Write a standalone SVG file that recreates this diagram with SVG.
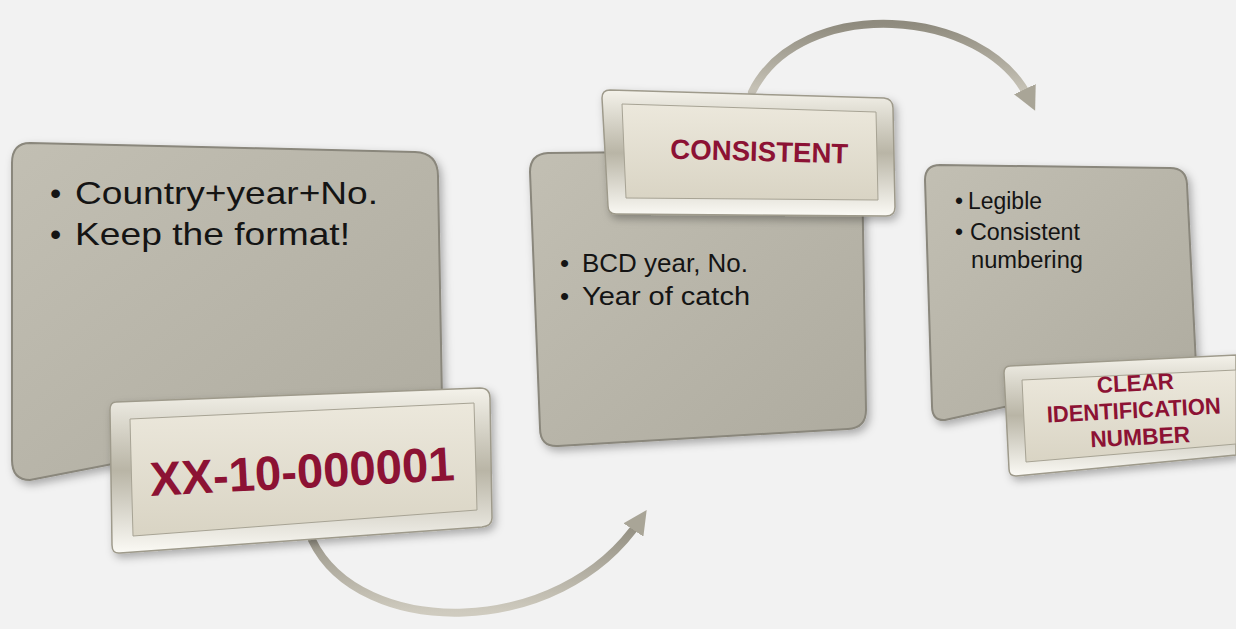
<svg xmlns="http://www.w3.org/2000/svg" width="1236" height="629" viewBox="0 0 1236 629">
<defs>
<linearGradient id="boxG" x1="0" y1="0" x2="1" y2="1">
<stop offset="0" stop-color="#c2bfb3"/><stop offset="1" stop-color="#aeab9f"/>
</linearGradient>
<linearGradient id="plateG" x1="0" y1="0" x2="0" y2="1">
<stop offset="0" stop-color="#ece8dc"/><stop offset="1" stop-color="#d9d4c4"/>
</linearGradient>
<linearGradient id="rimG" x1="0" y1="0" x2="0" y2="1">
<stop offset="0" stop-color="#f4f2ea"/><stop offset="0.5" stop-color="#b9b5a6"/><stop offset="1" stop-color="#fbfaf5"/>
</linearGradient>
<linearGradient id="arrG" x1="0" y1="0" x2="0" y2="1">
<stop offset="0" stop-color="#8f8b7e"/><stop offset="1" stop-color="#cfcbbf"/>
</linearGradient>
<filter id="sh" x="-10%" y="-10%" width="130%" height="130%">
<feDropShadow dx="3" dy="4" stdDeviation="4" flood-color="#000" flood-opacity="0.3"/>
</filter>
<marker id="ah" viewBox="0 0 10 10" refX="5" refY="5" markerWidth="3" markerHeight="3" orient="auto">
<path d="M0,0 L10,5 L0,10 z" fill="#a9a597"/>
</marker>
</defs>
<style>
.box{fill:url(#boxG);stroke:#8a877c;stroke-width:2;filter:url(#sh)}
.rim{fill:url(#rimG);stroke:#9e9a8b;stroke-width:1.5;filter:url(#sh)}
.face{fill:url(#plateG);stroke:#a7a394;stroke-width:1}
.body{font-family:"Liberation Sans",Arial,sans-serif;fill:#141414}
.lab{font-family:"Liberation Sans",Arial,sans-serif;font-weight:bold;fill:#8c1234;text-anchor:middle}
.arr{fill:none;stroke:url(#arrG);stroke-width:8;stroke-linecap:round}
</style>
<rect width="1236" height="629" fill="#f2f2f2"/>

<g id="connectors">
<path class="arr" d="M312,540 C360,640 560,640 640,520" marker-end="url(#ah)"/>
<path class="arr" d="M752,92 C800,-5 985,5 1030,100" marker-end="url(#ah)"/>
</g>

<g id="node1">
<path class="box" d="M30,143 L415,152 Q438,153 438,176 L442,400 L30,480 Q12,480 12,460 L12,163 Q12,143 30,143 z"/>
<text class="body" font-size="32"><tspan x="50" y="204">•</tspan><tspan x="75" y="204" textLength="303" lengthAdjust="spacingAndGlyphs">Country+year+No.</tspan><tspan x="50" y="245">•</tspan><tspan x="75" y="245" textLength="275" lengthAdjust="spacingAndGlyphs">Keep the format!</tspan></text>
</g>

<g id="label1">
<path class="rim" d="M116,402 L480,388 Q490,388 490,398 L492,518 Q492,526 482,527 L120,553 Q112,554 112,545 L110,410 Q110,402 116,402 z"/>
<path class="face" d="M130,419 L474,403 L477,510 L133,536 z"/>
<text class="lab" font-size="48" transform="translate(303,488) rotate(-3)" x="0" y="0" textLength="305" lengthAdjust="spacingAndGlyphs">XX-10-000001</text>
</g>

<g id="node2">
<path class="box" d="M548,153 L845,150 Q862,150 862,168 L866,410 Q866,428 848,429 L558,446 Q540,447 540,428 L530,172 Q530,154 548,153 z"/>
<text class="body" font-size="26"><tspan x="560" y="272">•</tspan><tspan x="582" y="272" textLength="166" lengthAdjust="spacingAndGlyphs">BCD year, No.</tspan><tspan x="560" y="305">•</tspan><tspan x="582" y="305" textLength="168" lengthAdjust="spacingAndGlyphs">Year of catch</tspan></text>
</g>

<g id="label2">
<path class="rim" d="M610,90 L884,98 Q893,99 893,108 L895,207 Q895,216 886,216 L616,214 Q608,214 608,206 L602,98 Q602,90 610,90 z"/>
<path class="face" d="M622,104 L876,112 L878,200 L626,198 z"/>
<text class="lab" font-size="28" transform="translate(759,161) rotate(1.5)" x="0" y="0" textLength="178" lengthAdjust="spacingAndGlyphs">CONSISTENT</text>
</g>

<g id="node3">
<path class="box" d="M940,165 L1170,168 Q1186,168 1187,184 L1196,365 L945,420 Q932,421 932,406 L925,180 Q925,165 940,165 z"/>
<text class="body" font-size="23"><tspan x="955" y="209">•</tspan><tspan x="968" y="209" textLength="74" lengthAdjust="spacingAndGlyphs">Legible</tspan><tspan x="955" y="240">•</tspan><tspan x="970" y="240" textLength="110" lengthAdjust="spacingAndGlyphs">Consistent</tspan><tspan x="971" y="268" textLength="112" lengthAdjust="spacingAndGlyphs">numbering</tspan></text>
</g>

<g id="label3">
<path class="rim" d="M1010,366 L1236,355 L1236,455 L1016,476 Q1009,476 1009,469 L1004,373 Q1004,366 1010,366 z"/>
<path class="face" d="M1022,380 L1236,370 L1236,444 L1026,462 z"/>
<g transform="rotate(-3 1135 415)">
<text class="lab" font-size="23"><tspan x="1137" y="391" textLength="77" lengthAdjust="spacingAndGlyphs">CLEAR</tspan><tspan x="1134" y="418" textLength="174" lengthAdjust="spacingAndGlyphs">IDENTIFICATION</tspan><tspan x="1139" y="445" textLength="100" lengthAdjust="spacingAndGlyphs">NUMBER</tspan></text>
</g>
</g>
</svg>
